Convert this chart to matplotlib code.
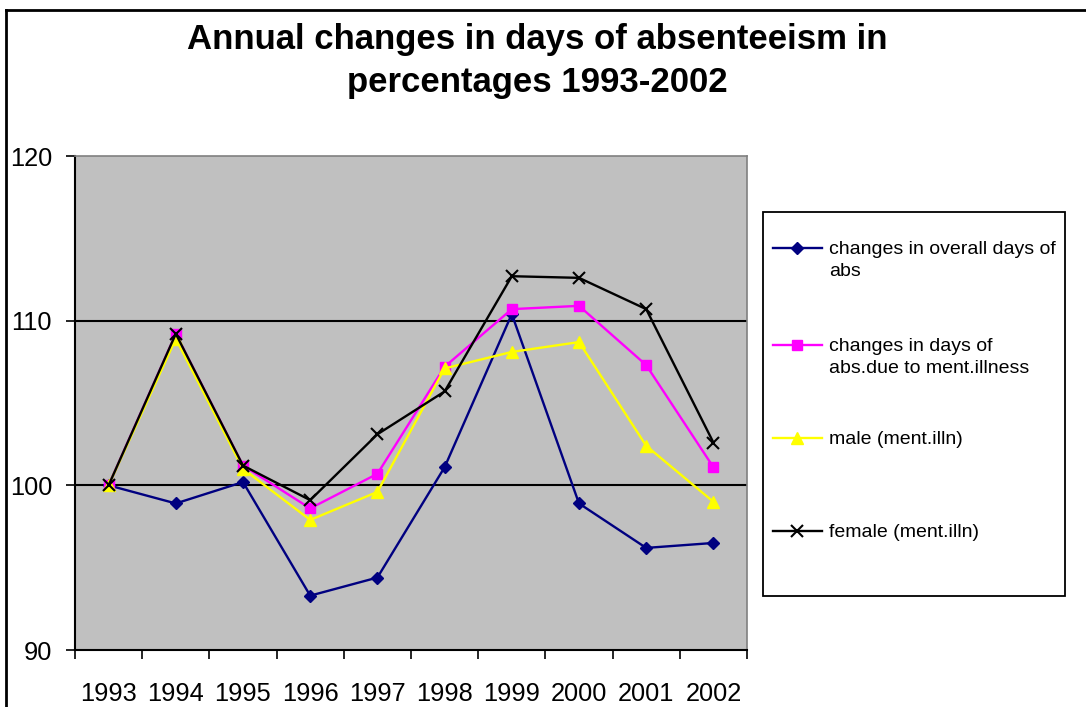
import numpy as np
import matplotlib
matplotlib.use("Agg")
import matplotlib.pyplot as plt
from matplotlib.lines import Line2D
from matplotlib.patches import Rectangle

plt.rcParams['font.family'] = ['Liberation Sans', 'DejaVu Sans']

years = ['1993', '1994', '1995', '1996', '1997', '1998', '1999', '2000', '2001', '2002']
overall = [100.0, 98.9, 100.2, 93.3, 94.4, 101.1, 110.4, 98.9, 96.2, 96.5]
ment_illness = [100.0, 109.2, 101.2, 98.6, 100.7, 107.2, 110.7, 110.9, 107.3, 101.1]
male = [100.0, 108.9, 101.0, 97.9, 99.6, 107.1, 108.1, 108.7, 102.4, 99.0]
female = [100.0, 109.2, 101.2, 99.1, 103.1, 105.7, 112.7, 112.6, 110.7, 102.6]

labels = ['changes in overall days of\nabs',
          'changes in days of\nabs.due to ment.illness',
          'male (ment.illn)',
          'female (ment.illn)']

W, H = 1086, 707
fig = plt.figure(figsize=(W / 100, H / 100), dpi=100)
ax = fig.add_axes([75 / W, 1 - 650 / H, (747 - 75) / W, (650 - 156) / H])
ax.set_facecolor('#C0C0C0')

x = np.arange(len(years))
styles = [
    dict(color='#000080', marker='D', markersize=6.5, mfc='#000080', mec='#000080'),
    dict(color='#FF00FF', marker='s', markersize=7.5, mfc='#FF00FF', mec='#FF00FF'),
    dict(color='#FFFF00', marker='^', markersize=9, mfc='#FFFF00', mec='#FFFF00'),
    dict(color='black', marker='x', markersize=9, mew=1.5),
]
series = [overall, ment_illness, male, female]
handles = []
for vals, st in zip(series, styles):
    h, = ax.plot(x, vals, lw=1.7, clip_on=False, zorder=3, **st)
    handles.append(h)

ax.set_xlim(-0.5, len(years) - 0.5)
ax.set_ylim(90, 120)
ax.set_yticks([90, 100, 110, 120])
ax.set_xticks(x)
ax.set_xticklabels(years)
ax.set_xticks(np.arange(-0.5, len(years)), minor=True)
ax.tick_params(axis='x', which='major', length=0, pad=23, labelsize=18.3)
ax.tick_params(axis='x', which='minor', length=6.5, width=1.2, direction='out')
ax.tick_params(axis='y', length=6.5, width=1.2, pad=10, labelsize=18.3)

for yv in [100, 110]:
    ax.axhline(yv, color='black', lw=1.5, zorder=1)

ax.spines['left'].set_linewidth(1.5)
ax.spines['bottom'].set_linewidth(1.5)
ax.spines['top'].set_color('#808080')
ax.spines['right'].set_color('#808080')
ax.spines['top'].set_linewidth(1.2)
ax.spines['right'].set_linewidth(1.2)

fig.text(0.495, 1 - 61 / H,
         'Annual changes in days of absenteeism in\npercentages 1993-2002',
         ha='center', va='center', fontsize=25, fontweight='bold', linespacing=1.42)

# outer chart border (left and top visible)
fig.add_artist(Line2D([6 / W, 6 / W], [0, 1 - 10 / H], transform=fig.transFigure, color='black', lw=2))
fig.add_artist(Line2D([6 / W, 1], [1 - 10 / H, 1 - 10 / H], transform=fig.transFigure, color='black', lw=2))

# legend box, Excel style
fig.add_artist(Rectangle((763 / W, 1 - 596 / H), 302 / W, 384 / H, transform=fig.transFigure,
                         facecolor='white', edgecolor='black', lw=1.3))
entry_y = [248, 345, 438, 531]
for h, lab, yy in zip(handles, labels, entry_y):
    yf = 1 - yy / H
    fig.add_artist(Line2D([773 / W, 822 / W], [yf, yf], transform=fig.transFigure,
                          color=h.get_color(), lw=1.7))
    fig.add_artist(Line2D([797 / W], [yf], transform=fig.transFigure, color=h.get_color(),
                          marker=h.get_marker(), markersize=h.get_markersize() * 0.9,
                          mfc=h.get_markerfacecolor(), mec=h.get_markeredgecolor(),
                          mew=h.get_markeredgewidth(), lw=0))
    fig.text(829 / W, 1 - (yy - 7) / H, lab, ha='left', va='top', fontsize=14, linespacing=1.42)

fig.savefig('out.png', dpi=100)
